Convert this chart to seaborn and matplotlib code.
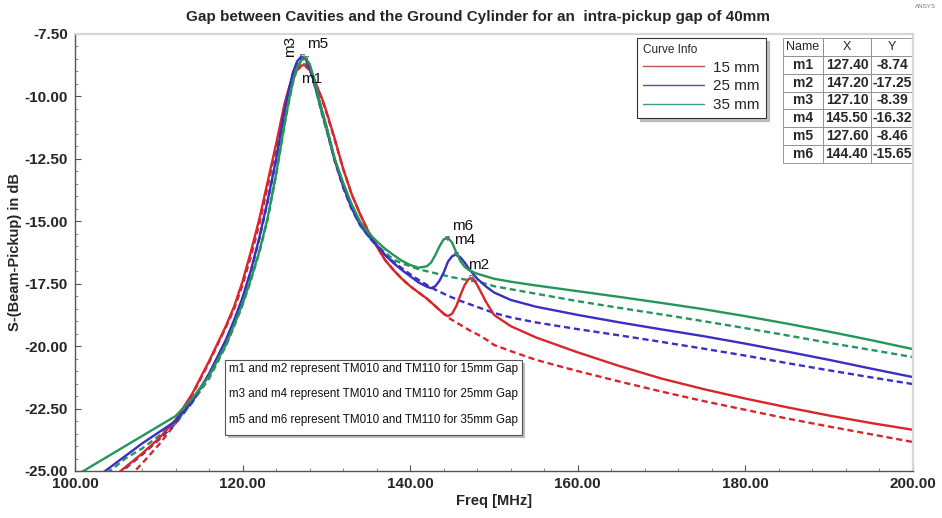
import matplotlib
matplotlib.use("Agg")
import matplotlib.pyplot as plt
from matplotlib.lines import Line2D
from matplotlib.patches import Rectangle
from matplotlib.ticker import MultipleLocator, FormatStrFormatter
import pandas as pd
import seaborn as sns

# Frequency grid (MHz) shared by all six traces
FREQ = [100, 102, 104, 106, 108, 110, 112, 114, 116, 118, 119, 120, 121, 122, 123,
        124, 125, 125.5, 126, 126.5, 127, 127.5, 128, 128.5, 129, 129.5, 130, 131,
        132, 133, 134, 135, 136, 137, 138, 139, 140, 141, 142, 142.5, 143, 143.5,
        144, 144.5, 145, 145.5, 146, 146.5, 147, 147.5, 148, 149, 150, 152, 155,
        160, 165, 170, 175, 180, 185, 190, 195, 200]

# S-(Beam-Pickup) in dB, solid traces (TM010 + TM110)
S15_SOLID = [-26.6, -25.9, -25.4, -24.85, -24.3, -23.7, -22.95, -21.9, -20.6, -19.2,
             -18.4, -17.4, -16.2, -14.9, -13.4, -11.9, -10.3, -9.7, -9.2, -8.9, -8.76,
             -8.75, -8.9, -9.25, -9.7, -10.1, -10.6, -11.7, -12.9, -13.9, -14.7, -15.4,
             -16.0, -16.55, -16.95, -17.3, -17.6, -17.85, -18.1, -18.25, -18.4, -18.55,
             -18.7, -18.8, -18.7, -18.4, -17.95, -17.55, -17.3, -17.28, -17.55, -18.2,
             -18.75, -19.2, -19.65, -20.25, -20.8, -21.3, -21.72, -22.1, -22.45,
             -22.78, -23.08, -23.35]
S25_SOLID = [-25.9, -25.4, -24.9, -24.4, -23.9, -23.45, -23.0, -22.2, -21.1, -19.75,
             -18.95, -18.05, -16.95, -15.65, -14.15, -12.5, -10.6, -9.75, -9.05, -8.6,
             -8.4, -8.5, -8.85, -9.4, -10.0, -10.6, -11.2, -12.55, -13.6, -14.45, -15.1,
             -15.55, -15.95, -16.35, -16.67, -16.95, -17.2, -17.45, -17.62, -17.68,
             -17.6, -17.38, -17.05, -16.62, -16.4, -16.32, -16.45, -16.65, -16.9, -17.1,
             -17.3, -17.6, -17.85, -18.15, -18.42, -18.75, -19.05, -19.33, -19.6, -19.9,
             -20.22, -20.55, -20.9, -21.24]
S35_SOLID = [-25.2, -24.8, -24.4, -24.0, -23.6, -23.2, -22.8, -22.1, -21.2, -19.95,
             -19.15, -18.3, -17.3, -16.2, -14.85, -13.1, -11.1, -10.2, -9.4, -8.85,
             -8.55, -8.46, -8.7, -9.25, -9.95, -10.6, -11.2, -12.5, -13.45, -14.3, -15.0,
             -15.45, -15.8, -16.1, -16.35, -16.58, -16.75, -16.86, -16.8, -16.65,
             -16.35, -16.0, -15.72, -15.67, -15.85, -16.25, -16.6, -16.82, -16.95,
             -17.03, -17.1, -17.2, -17.3, -17.42, -17.57, -17.8, -18.03, -18.27, -18.52,
             -18.8, -19.1, -19.42, -19.76, -20.12]

# Dashed traces (TM010 only)
S15_DASHED = [-27.6, -26.7, -26.0, -25.4, -24.7, -23.95, -23.1, -21.95, -20.65, -19.25,
              -18.5, -17.55, -16.4, -15.1, -13.6, -12.05, -10.4, -9.75, -9.25, -8.95,
              -8.8, -8.8, -8.95, -9.3, -9.75, -10.15, -10.65, -11.75, -12.9, -13.9,
              -14.7, -15.4, -16.0, -16.55, -16.95, -17.3, -17.6, -17.85, -18.1, -18.25,
              -18.4, -18.55, -18.7, -18.85, -18.95, -19.05, -19.15, -19.25, -19.35,
              -19.45, -19.52, -19.72, -19.95, -20.2, -20.55, -21.0, -21.42, -21.82,
              -22.2, -22.55, -22.9, -23.22, -23.53, -23.84]
S25_DASHED = [-26.8, -26.2, -25.6, -24.9, -24.35, -23.75, -23.1, -22.25, -21.15, -19.8,
              -19.0, -18.1, -17.0, -15.7, -14.2, -12.55, -10.65, -9.8, -9.1, -8.65,
              -8.45, -8.55, -8.9, -9.45, -10.05, -10.7, -11.3, -12.6, -13.65, -14.5,
              -15.15, -15.6, -16.0, -16.35, -16.62, -16.88, -17.12, -17.35, -17.55,
              -17.65, -17.74, -17.82, -17.9, -17.98, -18.05, -18.12, -18.19, -18.25,
              -18.31, -18.37, -18.43, -18.55, -18.67, -18.85, -19.05, -19.32, -19.57,
              -19.83, -20.1, -20.38, -20.68, -20.97, -21.25, -21.52]
S35_DASHED = [-26.6, -25.9, -25.05, -24.5, -24.1, -23.6, -23.05, -22.25, -21.3, -20.0,
              -19.2, -18.35, -17.35, -16.25, -14.9, -13.15, -11.15, -10.25, -9.45, -8.9,
              -8.55, -8.47, -8.75, -9.35, -10.1, -10.75, -11.35, -12.55, -13.55, -14.45,
              -15.15, -15.6, -15.95, -16.25, -16.53, -16.68, -16.8, -16.92, -17.0,
              -17.04, -17.08, -17.12, -17.16, -17.2, -17.24, -17.27, -17.3, -17.33,
              -17.36, -17.39, -17.42, -17.5, -17.6, -17.72, -17.9, -18.2, -18.47,
              -18.73, -19.0, -19.28, -19.57, -19.87, -20.15, -20.44]

GAPS = ["15 mm", "25 mm", "35 mm"]
PALETTE = {"15 mm": "#d8262b", "25 mm": "#3a2ec4", "35 mm": "#25965a"}
LEGEND_COLORS = {"15 mm": "#c0504d", "25 mm": "#5b4f9e", "35 mm": "#3f9a8a"}

MARKER_NAMES = ["m1", "m2", "m3", "m4", "m5", "m6"]
MARKER_X = [127.40, 147.20, 127.10, 145.50, 127.60, 144.40]
MARKER_Y = [-8.74, -17.25, -8.39, -16.32, -8.46, -15.65]

NOTES = ["m1 and m2 represent TM010 and TM110 for 15mm Gap",
         "m3 and m4 represent TM010 and TM110 for 25mm Gap",
         "m5 and m6 represent TM010 and TM110 for 35mm Gap"]

TITLE = "Gap between Cavities and the Ground Cylinder for an  intra-pickup gap of 40mm"

# Long-form table for seaborn
series = {("15 mm", "coupled"): S15_SOLID, ("25 mm", "coupled"): S25_SOLID,
          ("35 mm", "coupled"): S35_SOLID, ("15 mm", "baseline"): S15_DASHED,
          ("25 mm", "baseline"): S25_DASHED, ("35 mm", "baseline"): S35_DASHED}
frames = []
for (gap, kind), vals in series.items():
    frames.append(pd.DataFrame({"freq": FREQ, "db": vals, "gap": gap, "kind": kind}))
df = pd.concat(frames, ignore_index=True)

sns.set_theme(style="white")
plt.rcParams["font.family"] = ["Liberation Sans", "DejaVu Sans"]

W, H = 942, 518
fig = plt.figure(figsize=(W / 100, H / 100), dpi=100)
fig.patch.set_facecolor("white")
L, R, T, B = 75, 913, 34, 471
ax = fig.add_axes([L / W, 1 - B / H, (R - L) / W, (B - T) / H])

# dashed traces first so the solid ones sit on top
for kind in ["baseline", "coupled"]:
    sub = df[df["kind"] == kind]
    sns.lineplot(data=sub, x="freq", y="db", hue="gap", palette=PALETTE,
                 hue_order=GAPS, estimator=None, sort=False, legend=False,
                 linewidth=1.7, ax=ax,
                 **({"linestyle": (0, (2.6, 1.6))} if kind == "baseline" else {}))

ax.set_xlim(100, 200)
ax.set_ylim(-25, -7.5)
ax.xaxis.set_major_locator(MultipleLocator(20))
ax.yaxis.set_major_locator(MultipleLocator(2.5))
ax.xaxis.set_minor_locator(MultipleLocator(4))
ax.yaxis.set_minor_locator(MultipleLocator(0.5))
ax.xaxis.set_major_formatter(FormatStrFormatter("%.2f"))
ax.yaxis.set_major_formatter(FormatStrFormatter("%.2f"))
ax.tick_params(which="major", direction="in", length=4, width=0.8, color="#555555",
               labelsize=11, bottom=True, left=True)
ax.tick_params(axis="y", which="major", pad=5)
ax.tick_params(axis="x", which="major", pad=4.5)
ax.tick_params(which="minor", direction="in", length=2, width=0.6, color="#777777",
               bottom=True, left=True)
for lab in ax.get_xticklabels() + ax.get_yticklabels():
    lab.set_fontweight("bold")

for side in ["left", "bottom"]:
    ax.spines[side].set_color("#555555")
    ax.spines[side].set_linewidth(1.0)
for side in ["top", "right"]:
    ax.spines[side].set_color("#d6d6d6")
    ax.spines[side].set_linewidth(1.6)

ax.set_xlabel("Freq [MHz]", fontsize=10.5, fontweight="bold", labelpad=2)
ax.set_ylabel("S-(Beam-Pickup) in dB", fontsize=10.5, fontweight="bold", labelpad=2)
fig.text(478 / W, 1 - 17 / H, TITLE, ha="center", va="center", fontsize=11,
         fontweight="bold")
fig.text(925 / W, 1 - 7 / H, "ANSYS", ha="center", va="center", fontsize=4.5,
         color="#777777")

# marker labels
offsets = {"m1": (5, -10), "m2": (6, 9), "m3": (-9, 7), "m4": (6, 10),
           "m5": (8, 10), "m6": (11, 8)}
for name, mx, my in zip(MARKER_NAMES, MARKER_X, MARKER_Y):
    ax.plot([mx], [my], marker="v", ms=3, mfc="none", mec="#666666", mew=0.6)
    dx, dy = offsets[name]
    ax.annotate(name, (mx, my), xytext=(dx, dy), textcoords="offset points",
                ha="center", va="center", fontsize=11, color="#111111",
                rotation=90 if name == "m3" else 0)

# legend
handles = [Line2D([], [], color=LEGEND_COLORS[g], lw=1.0) for g in GAPS]
leg = ax.legend(handles, GAPS, title="Curve Info", loc="upper left",
                bbox_to_anchor=(637 / W, 1 - 38 / H), bbox_transform=fig.transFigure,
                fontsize=11, title_fontsize=8.5, frameon=True, fancybox=False,
                shadow={"color": "#999999", "alpha": 0.6}, handlelength=4.0,
                handletextpad=0.6, labelspacing=0.3, borderpad=0.4,
                borderaxespad=0)
leg._legend_box.align = "left"
leg.get_frame().set_edgecolor("#333333")
leg.get_frame().set_linewidth(0.8)

# marker table
cell_text = [[n, f"{x:.2f}", f"{y:.2f}"] for n, x, y in zip(MARKER_NAMES, MARKER_X, MARKER_Y)]
tx0, tx1, ty0, ty1 = 783, 913, 38, 163
tbl = ax.table(cellText=cell_text, colLabels=["Name", "X", "Y"],
               colWidths=[40, 48, 42], cellLoc="center",
               bbox=[(tx0 - L) / (R - L), (B - ty1) / (B - T), (tx1 - tx0) / (R - L),
                     (ty1 - ty0) / (B - T)])
tbl.auto_set_font_size(False)
for (r, c), cell in tbl.get_celld().items():
    cell.set_edgecolor("#888888")
    cell.set_linewidth(0.6)
    cell.set_facecolor("white")
    if r == 0:
        cell.get_text().set_fontsize(9)
    else:
        cell.get_text().set_fontsize(10)
        cell.get_text().set_fontweight("bold")

# notes box with a soft shadow
bx0, bx1, by0, by1 = 225, 522, 360, 435
fig.patches.append(Rectangle(((bx0 + 3) / W, 1 - (by1 + 3) / H), (bx1 - bx0) / W,
                             (by1 - by0) / H, transform=fig.transFigure,
                             facecolor="#bbbbbb", edgecolor="none", zorder=5))
fig.patches.append(Rectangle((bx0 / W, 1 - by1 / H), (bx1 - bx0) / W, (by1 - by0) / H,
                             transform=fig.transFigure, facecolor="white",
                             edgecolor="#555555", linewidth=0.8, zorder=6))
for i, note in enumerate(NOTES):
    fig.text(229 / W, 1 - (369 + 25.5 * i) / H, note, ha="left", va="center",
             fontsize=8.35, color="#111111", zorder=7)

fig.savefig("out.png", dpi=100, facecolor="white")
